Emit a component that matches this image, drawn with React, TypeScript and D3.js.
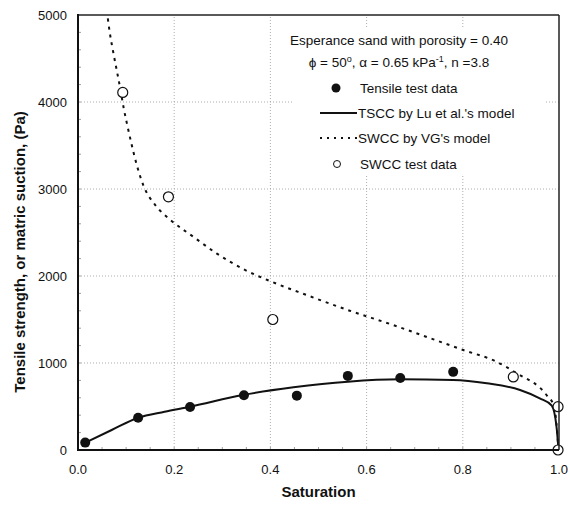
import { useMemo } from "react";
import * as d3 from "d3";

// Plot box
const W = 570;
const H = 509;
const M = { top: 15, right: 11, bottom: 59, left: 78 };

// Tensile test data (filled circles)
const tensileS = [0.015, 0.125, 0.233, 0.345, 0.455, 0.561, 0.67, 0.78];
const tensilePa = [85, 370, 495, 630, 625, 852, 828, 898];

// SWCC test data (open circles)
const swccS = [0.093, 0.188, 0.405, 0.905, 0.998, 0.998];
const swccPa = [4110, 2910, 1500, 840, 498, 0];

// TSCC by Lu et al.'s model (solid)
const tsccS = [0.015, 0.07, 0.125, 0.18, 0.233, 0.343, 0.448, 0.561, 0.669, 0.78, 0.85, 0.919, 0.96, 0.985, 0.995, 0.999];
const tsccPa = [84, 230, 371, 440, 498, 632, 720, 785, 812, 805, 766, 690, 594, 510, 260, 0];

// SWCC by VG's model (dashed)
const vgS = [0.062, 0.066, 0.073, 0.08, 0.088, 0.095, 0.103, 0.112, 0.122, 0.136, 0.16, 0.191, 0.24, 0.288, 0.347, 0.4, 0.475, 0.565, 0.649, 0.739, 0.801, 0.87, 0.912, 0.974, 0.99, 0.999];
const vgPa = [4960, 4800, 4580, 4380, 4150, 3930, 3720, 3500, 3280, 3040, 2820, 2650, 2450, 2260, 2070, 1940, 1782, 1601, 1448, 1272, 1149, 1015, 882, 632, 500, 0];

const xTicks = [0, 0.2, 0.4, 0.6, 0.8, 1.0];
const yTicks = [0, 1000, 2000, 3000, 4000, 5000];

const FONT = "Arial, 'Liberation Sans', sans-serif";

export default function App() {
  const x = useMemo(() => d3.scaleLinear().domain([0, 1]).range([M.left, W - M.right]), []);
  const y = useMemo(() => d3.scaleLinear().domain([0, 5000]).range([H - M.bottom, M.top]), []);

  const line = d3
    .line<[number, number]>()
    .x((d) => x(d[0]))
    .y((d) => y(d[1]))
    .curve(d3.curveMonotoneX);

  const tsccPath = line(tsccS.map((s, i) => [s, tsccPa[i]]));
  const vgPath = line(vgS.map((s, i) => [s, vgPa[i]]));

  const x0 = x(0), x1 = x(1), y0 = y(0), y1 = y(5000);
  const minorX = d3.range(0.05, 1, 0.05);
  const minorY = d3.range(200, 5000, 200);

  // legend rows (vertical centres)
  const lgRows = [88, 113, 138, 164];

  return (
    <svg
      width={W}
      height={H}
      style={{ position: "absolute", left: 0, top: 0, background: "#fff" }}
      fontFamily={FONT}
    >
      {/* grid */}
      <g stroke="#999" strokeWidth={0.8} strokeDasharray="1,2">
        {xTicks.slice(1, -1).map((t) => (
          <line key={"gx" + t} x1={x(t)} x2={x(t)} y1={y0} y2={y1} />
        ))}
        {yTicks.slice(1, -1).map((t) => (
          <line key={"gy" + t} x1={x0} x2={x1} y1={y(t)} y2={y(t)} />
        ))}
      </g>

      {/* minor ticks */}
      <g stroke="#888" strokeWidth={0.8}>
        {minorX.map((t) => (
          <line key={"mx" + t} x1={x(t)} x2={x(t)} y1={y0} y2={y0 - 3} />
        ))}
        {minorY.map((t) => (
          <line key={"my" + t} x1={x0} x2={x0 + 3} y1={y(t)} y2={y(t)} />
        ))}
      </g>

      {/* legend background */}
      <rect x={294} y={28} width={252} height={148} fill="#fff" />

      {/* curves */}
      <path d={vgPath ?? ""} fill="none" stroke="#111" strokeWidth={2} strokeDasharray="3,5" />
      <path d={tsccPath ?? ""} fill="none" stroke="#111" strokeWidth={2} />

      {/* markers */}
      {tensileS.map((s, i) => (
        <circle key={"t" + i} cx={x(s)} cy={y(tensilePa[i])} r={5} fill="#111" />
      ))}
      {swccS.map((s, i) => (
        <circle key={"s" + i} cx={x(s)} cy={y(swccPa[i])} r={5} fill="#fff" stroke="#111" strokeWidth={1.2} />
      ))}

      {/* frame */}
      <line x1={x0} x2={x1} y1={y1} y2={y1} stroke="#222" strokeWidth={1.5} />
      <line x1={x1} x2={x1} y1={y1} y2={y0} stroke="#222" strokeWidth={1.5} />
      <line x1={x0} x2={x0} y1={y1 - 1} y2={y0 + 1} stroke="#111" strokeWidth={2} />
      <line x1={x0} x2={x1} y1={y0} y2={y0} stroke="#111" strokeWidth={2} />

      {/* tick labels */}
      <g fontSize={13} fill="#111">
        {xTicks.map((t) => (
          <text key={"xl" + t} x={x(t)} y={y0 + 24} textAnchor="middle">
            {d3.format(".1f")(t)}
          </text>
        ))}
        {yTicks.map((t) => (
          <text key={"yl" + t} x={x0 - 11} y={y(t) + 5} textAnchor="end">
            {t}
          </text>
        ))}
      </g>

      {/* axis titles */}
      <text x={(x0 + x1) / 2} y={y0 + 47} textAnchor="middle" fontSize={15} fontWeight="bold" fill="#111">
        Saturation
      </text>
      <text
        transform={`translate(25,252) rotate(-90)`}
        textAnchor="middle"
        fontSize={15}
        fontWeight="bold"
        fill="#111"
      >
        Tensile strength, or matric suction, (Pa)
      </text>

      {/* legend */}
      <g fontSize={13.5} fill="#111">
        <text x={399} y={45} textAnchor="middle">
          Esperance sand with porosity = 0.40
        </text>
        <text x={399} y={67} textAnchor="middle">
          ϕ = 50<tspan dy={-5} fontSize={9}>o</tspan>
          <tspan dy={5}>, α = 0.65 kPa</tspan>
          <tspan dy={-5} fontSize={9}>-1</tspan>
          <tspan dy={5}>, n =3.8</tspan>
        </text>
        <circle cx={336} cy={lgRows[0]} r={4.5} fill="#111" />
        <text x={360} y={lgRows[0] + 5}>Tensile test data</text>
        <line x1={320} x2={357} y1={lgRows[1]} y2={lgRows[1]} stroke="#111" strokeWidth={2} />
        <text x={358} y={lgRows[1] + 5}>TSCC by Lu et al.'s model</text>
        <line x1={320} x2={357} y1={lgRows[2]} y2={lgRows[2]} stroke="#111" strokeWidth={2} strokeDasharray="2,5" />
        <text x={358} y={lgRows[2] + 5}>SWCC by VG's model</text>
        <circle cx={337} cy={lgRows[3]} r={3.5} fill="#fff" stroke="#111" strokeWidth={1} />
        <text x={360} y={lgRows[3] + 5}>SWCC test data</text>
      </g>
    </svg>
  );
}
